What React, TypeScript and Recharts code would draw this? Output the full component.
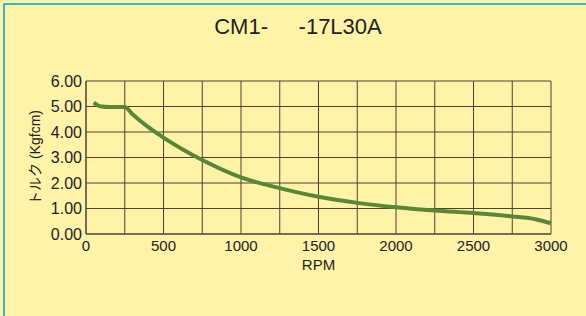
import React from 'react';
import { LineChart, Line, XAxis, YAxis, CartesianGrid } from 'recharts';

const rpm = [50, 75, 100, 150, 250, 300, 400, 500, 750, 1000, 1250, 1500, 1750, 2000, 2250, 2500, 2750, 2900, 3000];
const torque = [5.15, 5.05, 5.0, 4.98, 4.98, 4.7, 4.2, 3.78, 2.9, 2.22, 1.8, 1.46, 1.22, 1.05, 0.92, 0.82, 0.69, 0.58, 0.42];
const xTicks = [0, 250, 500, 750, 1000, 1250, 1500, 1750, 2000, 2250, 2500, 2750, 3000];
const yTicks = [0, 1, 2, 3, 4, 5, 6];

const title = 'CM1-     -17L30A';
const yLabel = 'トルク (Kgfcm)';
const xLabel = 'RPM';

const data = rpm.map((r, i) => ({ rpm: r, torque: torque[i] }));

const font = '"Liberation Sans", Arial, "Noto Sans CJK JP", sans-serif';
const gridColor = '#4e432c';
const textColor = '#222';

export default function App() {
  return (
    <div
      style={{
        position: 'absolute',
        left: 0,
        top: 0,
        width: 586,
        height: 316,
        background: '#fff3a9',
        fontFamily: font,
        overflow: 'hidden',
      }}
    >
      <div
        style={{
          position: 'absolute',
          left: 3,
          top: 3,
          right: 0,
          bottom: 0,
          borderTop: '2px solid #3ab4cc',
          borderLeft: '2px solid #3ab4cc',
        }}
      />
      <div
        style={{
          position: 'absolute',
          left: 5,
          width: 586,
          top: 14,
          textAlign: 'center',
          fontSize: 22,
          color: textColor,
          whiteSpace: 'pre',
          lineHeight: '26px',
        }}
      >
        {title}
      </div>
      <div style={{ position: 'absolute', left: 0, top: 0 }}>
        <LineChart width={586} height={316} data={data} margin={{ top: 81, right: 35, bottom: 32, left: 0 }}>
          <CartesianGrid stroke={gridColor} strokeWidth={1} />
          <XAxis
            dataKey="rpm"
            type="number"
            domain={[0, 3000]}
            ticks={xTicks}
            interval={0}
            tickFormatter={(v: number) => (v % 500 === 0 ? String(v) : '')}
            tickLine={false}
            tickSize={0}
            tickMargin={6}
            axisLine={{ stroke: gridColor }}
            height={50}
            tick={{ fill: textColor, fontSize: 15, fontFamily: font }}
            label={{ value: xLabel, position: 'insideBottom', offset: 14, fill: textColor, fontSize: 15, fontFamily: font }}
          />
          <YAxis
            type="number"
            domain={[0, 6]}
            ticks={yTicks}
            interval={0}
            tickFormatter={(v: number) => v.toFixed(2)}
            tickLine={false}
            tickSize={0}
            tickMargin={4}
            axisLine={{ stroke: gridColor }}
            width={86}
            tick={{ fill: textColor, fontSize: 16, fontFamily: font }}
            label={{
              value: yLabel,
              angle: -90,
              position: 'insideLeft',
              offset: 35,
              fill: textColor,
              fontSize: 14,
              fontFamily: font,
              style: { textAnchor: 'middle' },
            }}
          />
          <Line
            type="monotone"
            dataKey="torque"
            stroke="#5a8736"
            strokeWidth={4}
            dot={false}
            isAnimationActive={false}
          />
        </LineChart>
      </div>
    </div>
  );
}
